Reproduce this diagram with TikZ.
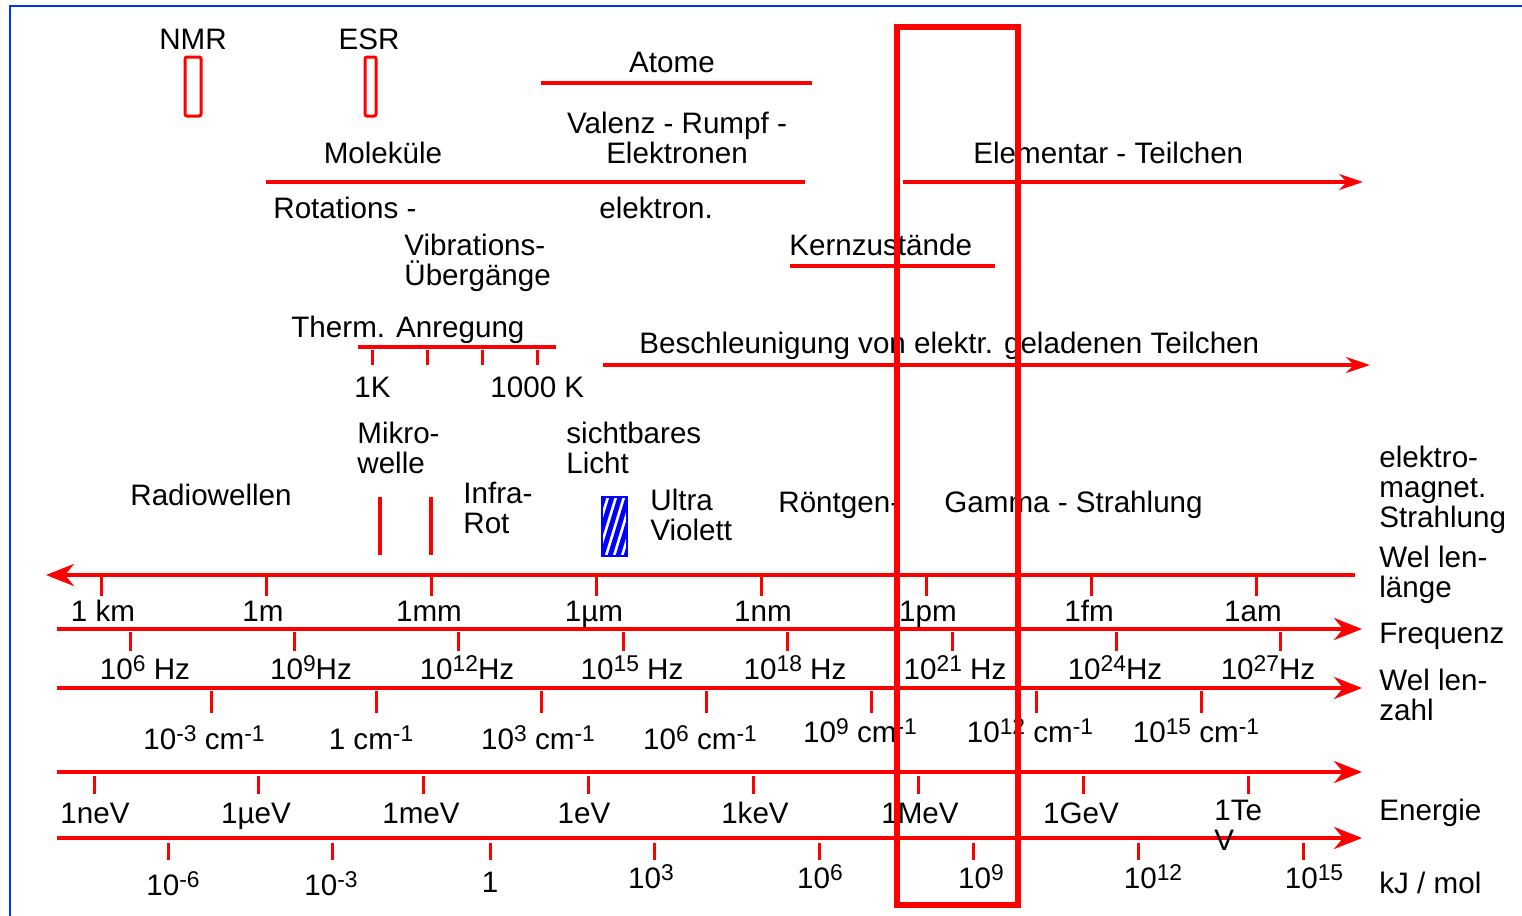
\documentclass[tikz,border=0pt]{standalone}
\usepackage{fontspec}
\setmainfont{Liberation Sans}
\usepackage{tikz}
\usetikzlibrary{positioning}
\usetikzlibrary{arrows.meta}
\definecolor{specred}{RGB}{255,0,0}
\definecolor{frameblue}{RGB}{0,51,255}
\tikzstyle{axis} = [specred,line width=2pt,-{Stealth[length=14pt,width=11pt]}]
\tikzstyle{band} = [specred,line width=1.6pt]
\tikzstyle{bandarrow} = [band,-{Stealth[length=12pt,width=8pt]}]
\tikzstyle{tick} = [specred,line width=1.5pt]
\newcommand{\ex}[1]{\raisebox{3.7pt}{\fontsize{11.4}{11.4}\selectfont #1}}

\begin{document}
\begin{tikzpicture}[x=0.5pt, y=-0.5pt, every node/.style={inner sep=0pt, font=\fontsize{14.8}{14.8}\selectfont}]
  \useasboundingbox (0,0) rectangle (1522,916);

  % Frame
  \draw[frameblue, line width=1.4pt] (10,916) -- (10,6) -- (1522,6);

  % NMR and ESR
  \node[anchor=base] (nmr) at (193,49) {NMR};
  \node[anchor=base] (esr) at (369,49) {ESR};
  \draw[specred, line width=1.5pt, rounded corners=1pt] (185,57) rectangle (201,116);
  \draw[specred, line width=1.5pt, rounded corners=1pt] (365,57) rectangle (376,116);

  % Atome, Molekuele, Teilchen
  \node[anchor=base] (atome) at (672,72) {Atome};
  \draw[band] (541,83) -- (812,83);
  \node[anchor=base, align=center] (valenz) at (677,163) {Valenz - Rumpf -\\Elektronen};
  \node[anchor=base] (molek) at (383,163) {Moleküle};
  \draw[band] (266,182) -- (805,182);
  \node[anchor=base west] (elementar) at (973,163) {Elementar - Teilchen};
  \draw[bandarrow] (903,182) -- (1363,182);
  \node[anchor=base west] (rotation) at (273,218) {Rotations -};
  \node[anchor=base west] (elektron) at (599,218) {elektron.};
  \node[anchor=base west, align=left] (vibration) at (404,285) {Vibrations-\\Übergänge};
  \node[anchor=base west] (kern) at (789,255) {Kernzustände};
  \draw[band] (790,266) -- (995,266);

  % Thermische Anregung
  \node[anchor=base west] (therm) at (291,337) {Therm. Anregung};
  \draw[band] (358,347) -- (556,347);
  \foreach \x in {372,427,482,537}
    \draw[tick] (\x,350) -- (\x,365);
  \node[anchor=base west] (tKa) at (354,397) {1K};
  \node[anchor=base west] (tKb) at (490,397) {1000 K};
  \node[anchor=base west] (beschl) at (639,353) {Beschleunigung von elektr. geladenen Teilchen};
  \draw[bandarrow] (603,365) -- (1370,365);

  % Strahlungsarten
  \node[anchor=base west, align=left] (mikro) at (357,473) {Mikro-\\welle};
  \node[anchor=base west, align=left] (licht) at (566,473) {sichtbares\\Licht};
  \node[anchor=base west] (radio) at (130,505) {Radiowellen};
  \node[anchor=base west, align=left] (infra) at (463,533) {Infra-\\Rot};
  \node[anchor=base west, align=left] (ultra) at (650,540) {Ultra\\Violett};
  \node[anchor=base west] (roentgen) at (778,512) {Röntgen-};
  \node[anchor=base west] (gamma) at (944,512) {Gamma - Strahlung};
  \draw[band] (380,497) -- (380,555);
  \draw[band] (431,497) -- (431,555);
  \begin{scope}
    \clip (602,497) rectangle (627,556);
    \foreach \s in {-24,-16,...,32}
      \draw[blue, line width=2.4pt] (602+\s,556) -- (620+\s,497);
  \end{scope}
  \draw[blue, line width=1.4pt] (602,497) rectangle (627,556);

  % Axes
  \draw[axis] (1355,575) -- (46,575);
  \draw[axis] (57,629) -- (1362,629);
  \draw[axis] (57,688) -- (1362,688);
  \draw[axis] (57,772) -- (1362,772);
  \draw[axis] (57,838) -- (1362,838);
  \foreach \i in {0,...,7}
    \draw[tick] (101+165*\i,575) -- (101+165*\i,596);
  \foreach \i in {0,...,7}
    \draw[tick] (130+164.4*\i,632) -- (130+164.4*\i,651);
  \foreach \i in {0,...,6}
    \draw[tick] (211+165*\i,691) -- (211+165*\i,713);
  \foreach \i in {0,...,7}
    \draw[tick] (94+164.9*\i,776) -- (94+164.9*\i,794);
  \foreach \x in {168,332,490,654,819,973,1138,1303}
    \draw[tick] (\x,843) -- (\x,860);

  % Axis labels
  \foreach \x/\t [count=\i] in {103/1 km, 263/1m, 429/1mm, 594/1µm, 763/1nm, 928/1pm, 1089/1fm, 1253/1am}
    \node[anchor=base] (wl\i) at (\x,621) {\t};
  \foreach \x/\t [count=\i] in {145/10\ex{6} Hz, 311/10\ex{9}Hz, 467/10\ex{12}Hz, 632/10\ex{15} Hz, 795/10\ex{18} Hz, 955/10\ex{21} Hz, 1115/10\ex{24}Hz, 1268/10\ex{27}Hz}
    \node[anchor=base] (fr\i) at (\x,679) {\t};
  \foreach \x/\y/\t [count=\i] in {204/749/10\ex{-3} cm\ex{-1}, 371/749/1 cm\ex{-1}, 538/749/10\ex{3} cm\ex{-1}, 700/749/10\ex{6} cm\ex{-1}, 860/742/10\ex{9} cm\ex{-1}, 1030/742/10\ex{12} cm\ex{-1}, 1196/742/10\ex{15} cm\ex{-1}}
    \node[anchor=base] (wz\i) at (\x,\y) {\t};
  \foreach \x/\t [count=\i] in {95/1neV, 256/1µeV, 421/1meV, 584/1eV, 755/1keV, 920/1MeV, 1081/1GeV}
    \node[anchor=base] (en\i) at (\x,823) {\t};
  \node[anchor=base west, align=left] (en8) at (1214,850) {1Te\\V};
  \foreach \x/\y/\t [count=\i] in {173/895/10\ex{-6}, 331/895/10\ex{-3}, 490/892/1, 651/888/10\ex{3}, 820/888/10\ex{6}, 981/888/10\ex{9}, 1153/888/10\ex{12}, 1314/888/10\ex{15}}
    \node[anchor=base] (kj\i) at (\x,\y) {\t};

  % Axis names
  \node[anchor=base west, align=left] (emstr) at (1379,527) {elektro-\\magnet.\\Strahlung};
  \node[anchor=base west, align=left] (wlaenge) at (1379,597) {Wel len-\\länge};
  \node[anchor=base west] (freq) at (1379,643) {Frequenz};
  \node[anchor=base west, align=left] (wzahl) at (1379,720) {Wel len-\\zahl};
  \node[anchor=base west] (energie) at (1379,820) {Energie};
  \node[anchor=base west] (kjmol) at (1379,893) {kJ / mol};

  % Highlighted column
  \draw[specred, line width=2.6pt] (897,27) rectangle (1018,905);
\end{tikzpicture}
\end{document}
